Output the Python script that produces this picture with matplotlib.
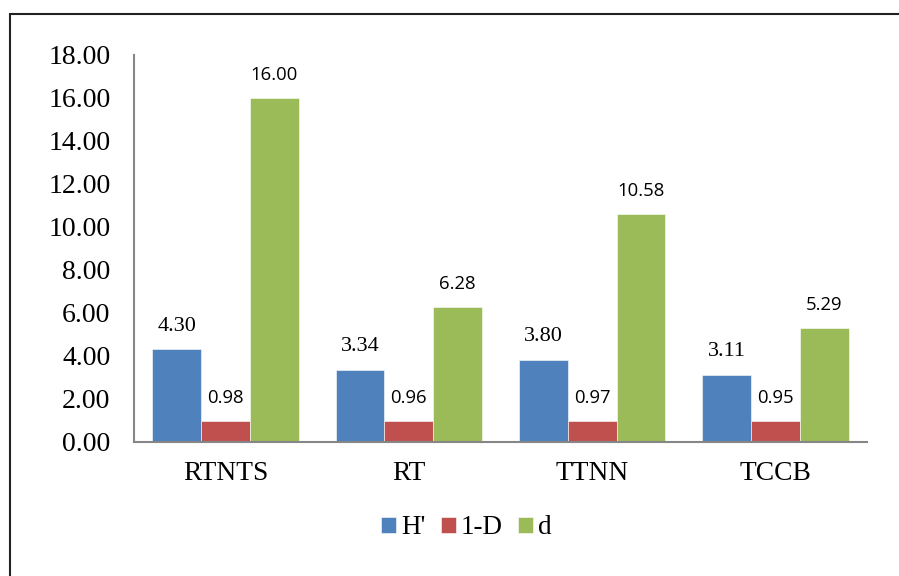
import matplotlib
matplotlib.use("Agg")
import matplotlib.pyplot as plt
from matplotlib.patches import Rectangle
import numpy as np

categories = ["RTNTS", "RT", "TTNN", "TCCB"]
series_names = ["H'", "1-D", "d"]
h_values = [4.30, 3.34, 3.80, 3.11]
simpson_values = [0.98, 0.96, 0.97, 0.95]
d_values = [16.00, 6.28, 10.58, 5.29]
y_ticks = [0, 2, 4, 6, 8, 10, 12, 14, 16, 18]

colors = ["#4F81BD", "#C0504D", "#9BBB59"]
serif = "Liberation Serif"
sans = "Open Sans"

fig = plt.figure(figsize=(8.99, 5.76), dpi=100)
ax = fig.add_axes([134 / 899, 1 - 441.7 / 576, (867 - 134) / 899, (441.7 - 54.6) / 576])

x = np.arange(len(categories))
width = 0.8 / 3
series = [h_values, simpson_values, d_values]
label_fonts = [(serif, 16), (sans, 13.3), (sans, 13.3)]

for i, (vals, name, col) in enumerate(zip(series, series_names, colors)):
    pos = x + (i - 1) * width
    bars = ax.bar(pos, vals, width, color=col, label=name, edgecolor="white", linewidth=0.4)
    fam, size = label_fonts[i]
    for b, v in zip(bars, vals):
        ax.annotate(f"{v:.2f}", (b.get_x() + b.get_width() / 2, v),
                    xytext=(0, 23), textcoords="offset pixels",
                    ha="center", va="center", family=fam, fontsize=size)

ax.set_xlim(-0.5, len(categories) - 0.5)
ax.set_ylim(0, 18)
ax.set_yticks(y_ticks)
ax.set_yticklabels([f"{t:.2f}" for t in y_ticks], family=serif, fontsize=20)
ax.set_xticks(x)
ax.set_xticklabels(categories, family=serif, fontsize=19.8)
ax.tick_params(axis="both", length=0)
ax.tick_params(axis="y", pad=17)
ax.tick_params(axis="x", pad=14)

for s in ["top", "right"]:
    ax.spines[s].set_visible(False)
for s in ["left", "bottom"]:
    ax.spines[s].set_color("#868686")
    ax.spines[s].set_linewidth(1.5)

leg = fig.legend(loc="center", bbox_to_anchor=(466.5 / 899, 1 - 528 / 576), ncol=3,
                 frameon=False, prop={"family": serif, "size": 19.5},
                 handlelength=0.55, handleheight=0.55, handletextpad=0.2,
                 columnspacing=0.55)

# outer chart frame
fig.patches.append(Rectangle((10 / 899, -0.1), 1.2, 1.1 - 14 / 576,
                             transform=fig.transFigure, fill=False,
                             edgecolor="#222222", linewidth=1.5))

fig.savefig("out.png", dpi=100)
